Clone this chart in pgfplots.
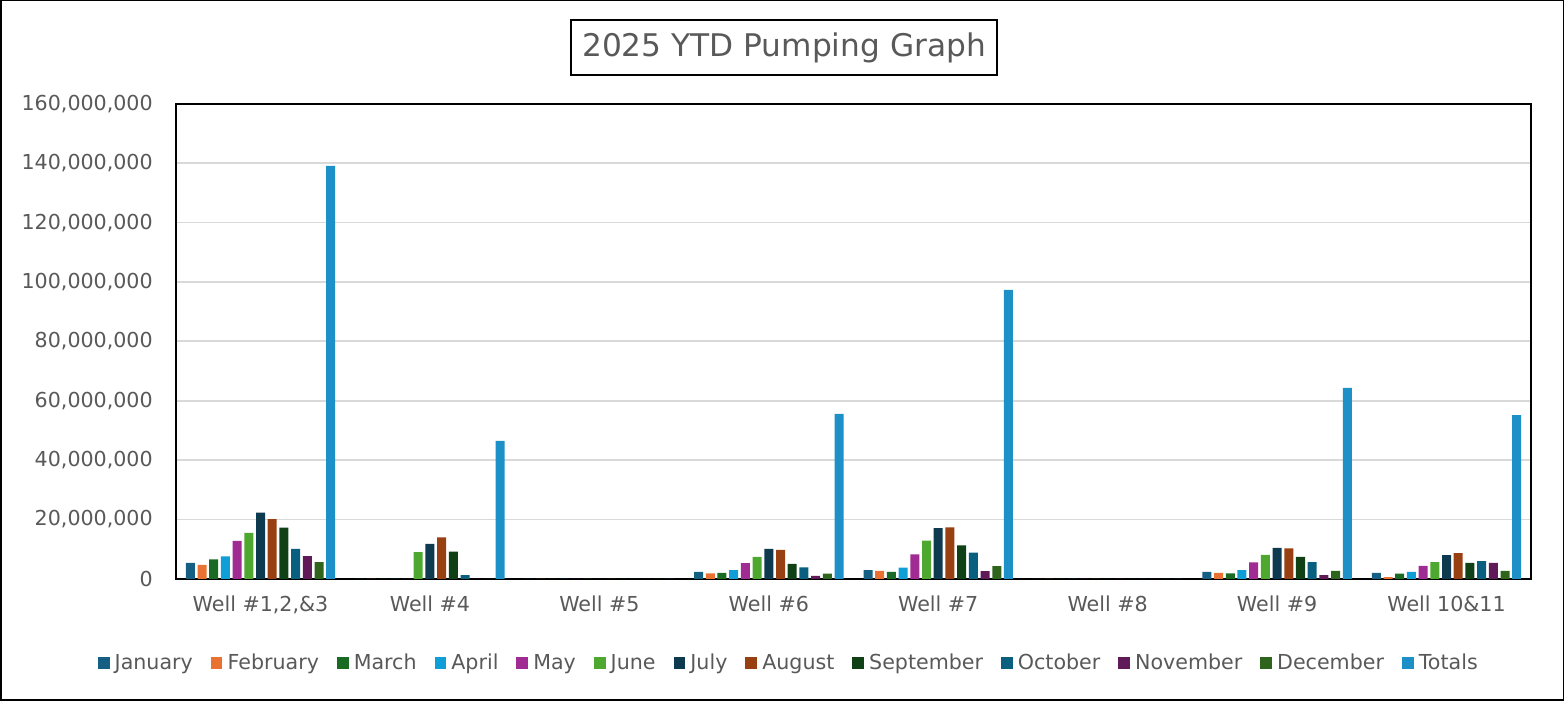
\documentclass[border=0pt]{standalone}
\usepackage{pgfplots}
\pgfplotsset{compat=1.18}
\usepackage{pgfplotstable}
\usepackage{fontspec}
\setmainfont{DejaVu Sans}

\definecolor{txtgray}{HTML}{595959}
\definecolor{gridgray}{HTML}{D9D9D9}
\definecolor{cJan}{HTML}{156082}
\definecolor{cFeb}{HTML}{E97132}
\definecolor{cMar}{HTML}{196B24}
\definecolor{cApr}{HTML}{0F9ED5}
\definecolor{cMay}{HTML}{A02B93}
\definecolor{cJun}{HTML}{4EA72E}
\definecolor{cJul}{HTML}{0D3A4E}
\definecolor{cAug}{HTML}{984012}
\definecolor{cSep}{HTML}{0F4016}
\definecolor{cOct}{HTML}{095F80}
\definecolor{cNov}{HTML}{601A58}
\definecolor{cDec}{HTML}{2F641C}
\definecolor{cTot}{HTML}{1E90C8}

% pumped volume per well (gallons), one row per well
\pgfplotstableread{
x jan     feb     mar     apr     may      jun      jul      aug      sep      oct      nov     dec     tot
0 5400000 4700000 6600000 7600000 12800000 15500000 22300000 20100000 17300000 10100000 7700000 5700000 139100000
1 0       0       0       0       0        9000000  11800000 14000000 9200000  1300000  0       0       46500000
2 0       0       0       0       0        0        0        0        0        0        0       0       0
3 2400000 1900000 2000000 3000000 5300000  7400000  10100000 9800000  5100000  3900000  1000000 1800000 55600000
4 3000000 2700000 2400000 3800000 8300000  12900000 17100000 17400000 11300000 8900000  2600000 4300000 97300000
5 0       0       0       0       0        0        0        0        0        0        0       0       0
6 2400000 2000000 1900000 3000000 5600000  8100000  10500000 10300000 7400000  5700000  1300000 2700000 64300000
7 2000000 600000  1800000 2400000 4400000  5700000  8000000  8700000  5400000  6000000  5400000 2700000 55200000
}\wells

\begin{document}
\begin{tikzpicture}
\draw[line width=0.75pt] (0,0) rectangle (781pt,349.5pt);
\node[draw, line width=1pt, minimum width=212.5pt, minimum height=27.5pt,
      font=\fontsize{15.6}{18}\selectfont, text=txtgray] at (391.5pt,326pt) {2025 YTD Pumping Graph};
\begin{axis}[
    at={(87.5pt,60.5pt)}, anchor=south west,
    scale only axis, width=677.5pt, height=237.5pt,
    ybar=1.35pt, bar width=4.5pt,
    xmin=-0.5, xmax=7.5, ymin=0, ymax=160000000,
    xtick={0,1,2,3,4,5,6,7},
    xticklabels={{Well \#1,2,\&3},{Well \#4},{Well \#5},{Well \#6},{Well \#7},{Well \#8},{Well \#9},{Well 10\&11}},
    ytick={0,20000000,40000000,60000000,80000000,100000000,120000000,140000000,160000000},
    scaled y ticks=false,
    /pgf/number format/fixed,
    /pgf/number format/1000 sep={,},
    /pgf/number format/assume math mode=true,
    yticklabel style={xshift=-8pt},
    xticklabel style={yshift=-5pt},
    tick label style={font=\fontsize{10.3}{12}\selectfont, text=txtgray},
    major tick length=0pt,
    ymajorgrids, grid style={gridgray, line width=0.9pt},
    axis line style={line width=0.75pt},
    legend style={at={(0.453,-0.177)}, anchor=center, draw=none, legend columns=-1,
        font=\fontsize{10.3}{12}\selectfont, text=txtgray,
        /tikz/every even column/.append style={column sep=7pt},
        /tikz/every odd column/.append style={column sep=0.6pt}},
    legend image code/.code={\fill[#1] (0pt,-2.9pt) rectangle (5.8pt,2.9pt);},
    every axis plot/.append style={draw=none},
]
\addplot[fill=cJan] table[x=x,y=jan] {\wells};
\addplot[fill=cFeb] table[x=x,y=feb] {\wells};
\addplot[fill=cMar] table[x=x,y=mar] {\wells};
\addplot[fill=cApr] table[x=x,y=apr] {\wells};
\addplot[fill=cMay] table[x=x,y=may] {\wells};
\addplot[fill=cJun] table[x=x,y=jun] {\wells};
\addplot[fill=cJul] table[x=x,y=jul] {\wells};
\addplot[fill=cAug] table[x=x,y=aug] {\wells};
\addplot[fill=cSep] table[x=x,y=sep] {\wells};
\addplot[fill=cOct] table[x=x,y=oct] {\wells};
\addplot[fill=cNov] table[x=x,y=nov] {\wells};
\addplot[fill=cDec] table[x=x,y=dec] {\wells};
\addplot[fill=cTot] table[x=x,y=tot] {\wells};
\legend{January,February,March,April,May,June,July,August,September,October,November,December,Totals}
\end{axis}
\end{tikzpicture}
\end{document}
